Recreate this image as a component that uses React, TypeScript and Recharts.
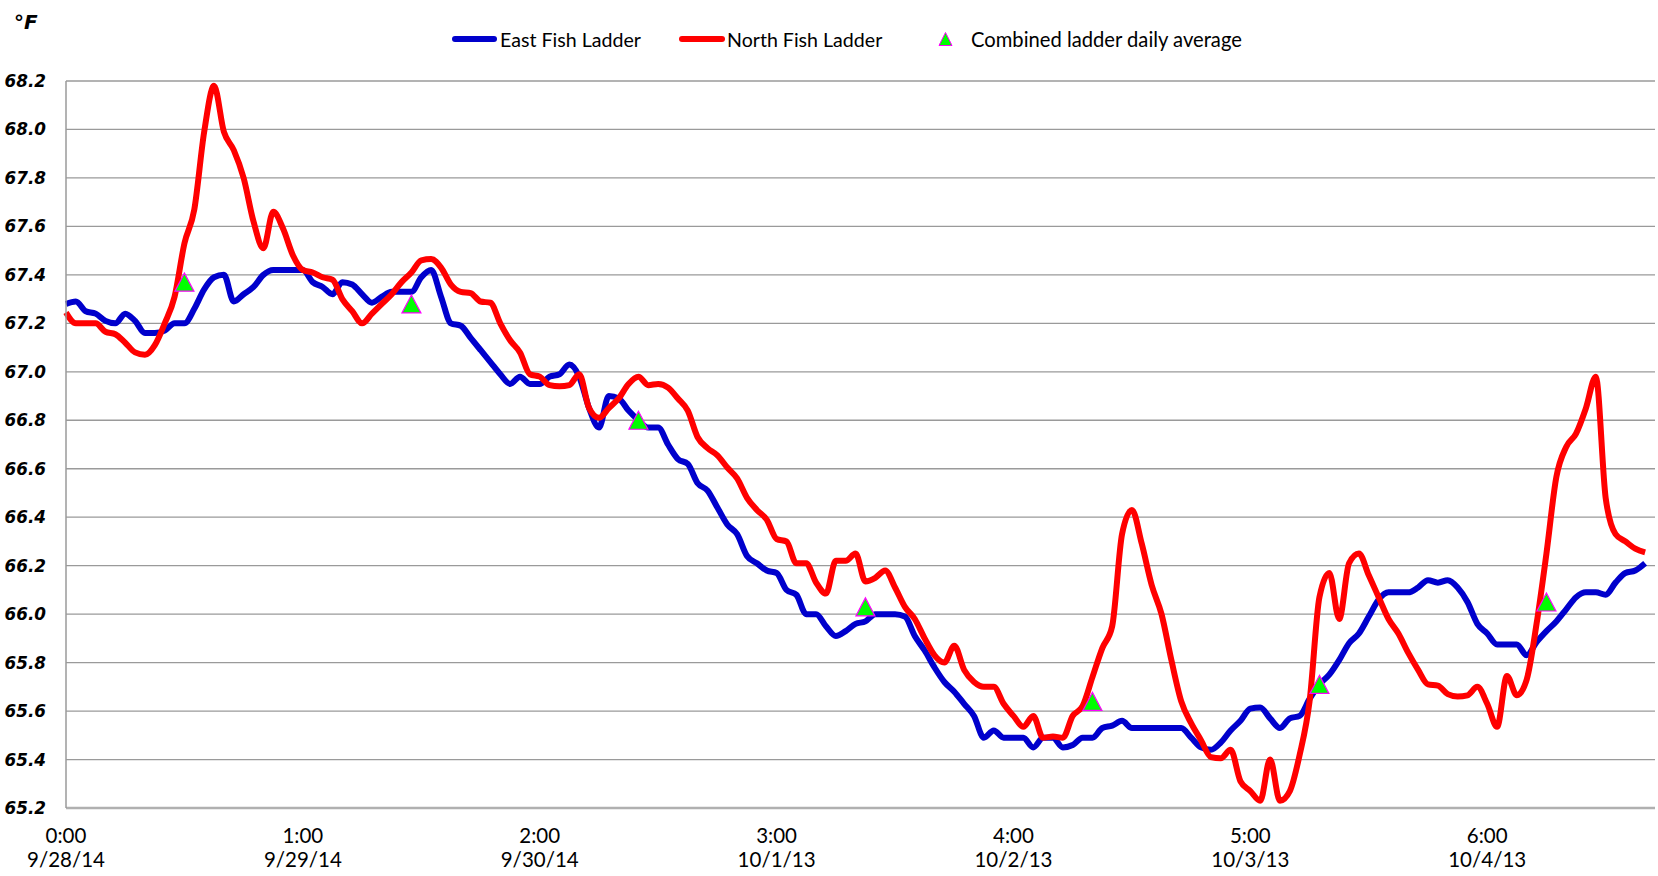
import React from 'react';
import { ComposedChart, Line, Scatter, XAxis, YAxis, CartesianGrid, Legend } from 'recharts';

// Hourly water temperature (°F), hour 0 = 0:00 9/28
const eastTemps = [
  67.28, 67.29, 67.25, 67.24, 67.21, 67.20, 67.24, 67.21, 67.16, 67.16,
  67.17, 67.20, 67.20, 67.26, 67.34, 67.39, 67.40, 67.29, 67.32, 67.35,
  67.40, 67.42, 67.42, 67.42, 67.42, 67.37, 67.35, 67.32, 67.37, 67.36,
  67.32, 67.285, 67.31, 67.33, 67.33, 67.33, 67.39, 67.42, 67.31, 67.20,
  67.19, 67.14, 67.09, 67.04, 66.99, 66.95, 66.98, 66.95, 66.95, 66.98,
  66.99, 67.03, 66.98, 66.85, 66.77, 66.90, 66.89, 66.84, 66.80, 66.77,
  66.77, 66.70, 66.64, 66.62, 66.54, 66.51, 66.44, 66.37, 66.33, 66.24,
  66.21, 66.18, 66.17, 66.10, 66.08, 66.00, 66.00, 65.95, 65.91, 65.93,
  65.96, 65.97, 66.00, 66.00, 66.00, 65.99, 65.91, 65.85, 65.78, 65.72,
  65.68, 65.63, 65.58, 65.49, 65.52, 65.49, 65.49, 65.49, 65.45, 65.49,
  65.49, 65.45, 65.46, 65.49, 65.49, 65.53, 65.54, 65.56, 65.53, 65.53,
  65.53, 65.53, 65.53, 65.53, 65.49, 65.45, 65.44, 65.47, 65.52, 65.56,
  65.61, 65.615, 65.57, 65.53, 65.57, 65.58, 65.65, 65.71, 65.75, 65.81,
  65.88, 65.92, 65.99, 66.06, 66.09, 66.09, 66.09, 66.11, 66.14, 66.13,
  66.14, 66.11, 66.05, 65.96, 65.92, 65.875, 65.875, 65.875, 65.83, 65.885,
  65.93, 65.97, 66.02, 66.07, 66.09, 66.09, 66.08, 66.13, 66.17, 66.18,
  66.21,
];

const northTemps = [
  67.245, 67.20, 67.20, 67.20, 67.165, 67.155, 67.12, 67.08, 67.07, 67.11,
  67.20, 67.31, 67.53, 67.67, 67.99, 68.18, 67.99, 67.915, 67.80, 67.62,
  67.51, 67.66, 67.59, 67.48, 67.42, 67.41, 67.39, 67.38, 67.30, 67.25,
  67.20, 67.24, 67.28, 67.32, 67.37, 67.41, 67.46, 67.465, 67.43, 67.36,
  67.33, 67.325, 67.29, 67.285, 67.20, 67.13, 67.08, 66.99, 66.98, 66.945,
  66.94, 66.945, 66.99, 66.85, 66.81, 66.85, 66.89, 66.95, 66.98, 66.945,
  66.95, 66.935, 66.89, 66.84, 66.73, 66.685, 66.655, 66.605, 66.56, 66.48,
  66.43, 66.39, 66.31, 66.30, 66.21, 66.21, 66.13, 66.085, 66.22, 66.22,
  66.25, 66.135, 66.15, 66.18, 66.11, 66.03, 65.98, 65.90, 65.83, 65.80,
  65.87, 65.77, 65.72, 65.70, 65.70, 65.63, 65.58, 65.535, 65.58, 65.49,
  65.495, 65.49, 65.58, 65.62, 65.74, 65.86, 65.95, 66.33, 66.43, 66.29,
  66.12, 66.00, 65.81, 65.64, 65.55, 65.48, 65.41, 65.405, 65.44, 65.31,
  65.27, 65.23, 65.40, 65.23, 65.27, 65.42, 65.64, 66.07, 66.17, 65.98,
  66.21, 66.25, 66.16, 66.07, 65.98, 65.92, 65.84, 65.77, 65.71, 65.705,
  65.67, 65.66, 65.665, 65.70, 65.63, 65.535, 65.745, 65.665, 65.73, 65.96,
  66.25, 66.565, 66.69, 66.745, 66.85, 66.98, 66.48, 66.33, 66.30, 66.27,
  66.255,
];

const avgHours = [12, 35, 58, 81, 104, 127, 150];
const avgTemps = [67.37, 67.28, 66.8, 66.03, 65.64, 65.71, 66.05];

const tickHours = [0, 24, 48, 72, 96, 120, 144];
const tickTimes = ['0:00', '1:00', '2:00', '3:00', '4:00', '5:00', '6:00'];
const tickDates = ['9/28/14', '9/29/14', '9/30/14', '10/1/13', '10/2/13', '10/3/13', '10/4/13'];

const yTicks = [65.2, 65.4, 65.6, 65.8, 66.0, 66.2, 66.4, 66.6, 66.8, 67.0, 67.2, 67.4, 67.6, 67.8, 68.0, 68.2];

const seriesNames = ['East Fish Ladder', 'North Fish Ladder', 'Combined ladder daily average'];

const BLUE = '#0000CC';
const RED = '#FF0000';
const LABEL_FONT = 'Lato, "Noto Sans", sans-serif';

const data = eastTemps.map((e, i) => ({ h: i, east: e, north: northTemps[i] }));
const avgData = avgHours.map((h, i) => ({ h, avg: avgTemps[i] }));

const Triangle = (props: any) => {
  const { cx, cy } = props;
  if (cx == null || cy == null) return null;
  const pts = `${cx},${cy - 9} ${cx - 9.5},${cy + 9} ${cx + 9.5},${cy + 9}`;
  return <polygon points={pts} fill="#00FF00" stroke="#FF00FF" strokeWidth={1.2} />;
};

const YTick = (props: any) => {
  const { x, y, payload } = props;
  return (
    <text
      x={x}
      y={y}
      textAnchor="end"
      dominantBaseline="central"
      fontFamily='"DejaVu Sans", Verdana, sans-serif'
      fontWeight="bold"
      fontStyle="italic"
      fontSize={16.8}
      fill="#000"
    >
      {Number(payload.value).toFixed(1)}
    </text>
  );
};

const XTick = (props: any) => {
  const { x, y, payload } = props;
  const idx = tickHours.indexOf(payload.value);
  if (idx < 0) return null;
  return (
    <text x={x} y={y} textAnchor="middle" fontFamily={LABEL_FONT} fontSize={20.5} fill="#000">
      <tspan x={x} dy={33}>{tickTimes[idx]}</tspan>
      <tspan x={x} dy={24}>{tickDates[idx]}</tspan>
    </text>
  );
};

const renderLegend = () => (
  <svg width={1658} height={60} style={{ display: 'block' }}>
    <text
      x={14}
      y={29}
      fontFamily='"DejaVu Sans", Verdana, sans-serif'
      fontWeight="bold"
      fontStyle="italic"
      fontSize={20}
      fill="#000"
    >
      °F
    </text>
    <line x1={455} x2={494} y1={39} y2={39} stroke={BLUE} strokeWidth={6} strokeLinecap="round" />
    <text x={500} y={39} dominantBaseline="central" fontFamily={LABEL_FONT} fontSize={19.6} fill="#000">
      {seriesNames[0]}
    </text>
    <line x1={682} x2={722} y1={39} y2={39} stroke={RED} strokeWidth={6} strokeLinecap="round" />
    <text x={727} y={39} dominantBaseline="central" fontFamily={LABEL_FONT} fontSize={19.6} fill="#000">
      {seriesNames[1]}
    </text>
    <polygon points="945.5,32.5 939,45.5 952,45.5" fill="#00FF00" stroke="#FF00FF" strokeWidth={1} />
    <text x={971} y={39} dominantBaseline="central" fontFamily={LABEL_FONT} fontSize={20.2} fill="#000">
      {seriesNames[2]}
    </text>
  </svg>
);

export default function App() {
  return (
    <div style={{ position: 'absolute', left: 0, top: 0, width: 1658, height: 876, background: '#fff' }}>
      <ComposedChart
        width={1658}
        height={876}
        data={data}
        margin={{ top: 81, right: 3, bottom: 8, left: 10 }}
      >
        <CartesianGrid vertical={false} stroke="#9a9a9a" strokeWidth={1.3} />
        <XAxis
          dataKey="h"
          type="number"
          domain={[0, 161]}
          ticks={tickHours}
          interval={0}
          height={60}
          tickLine={false}
          tickSize={0}
          axisLine={{ stroke: '#b0b0b0', strokeWidth: 2.5 }}
          tick={<XTick />}
        />
        <YAxis
          type="number"
          domain={[65.2, 68.2]}
          ticks={yTicks}
          interval={0}
          width={56}
          allowDataOverflow
          tickLine={false}
          tickSize={0}
          tickMargin={20}
          axisLine={{ stroke: '#9a9a9a', strokeWidth: 1.5 }}
          tick={<YTick />}
        />
        <Legend
          layout="vertical"
          align="center"
          verticalAlign="middle"
          content={renderLegend}
          wrapperStyle={{ position: 'absolute', top: 0, left: 0, width: 1658, height: 60 }}
        />
        <Line
          type="monotone"
          dataKey="east"
          name={seriesNames[0]}
          stroke={BLUE}
          strokeWidth={6}
          dot={false}
          activeDot={false}
          isAnimationActive={false}
        />
        <Line
          type="monotone"
          dataKey="north"
          name={seriesNames[1]}
          stroke={RED}
          strokeWidth={6}
          dot={false}
          activeDot={false}
          isAnimationActive={false}
        />
        <Scatter
          data={avgData}
          dataKey="avg"
          name={seriesNames[2]}
          shape={<Triangle />}
          isAnimationActive={false}
        />
      </ComposedChart>
    </div>
  );
}
